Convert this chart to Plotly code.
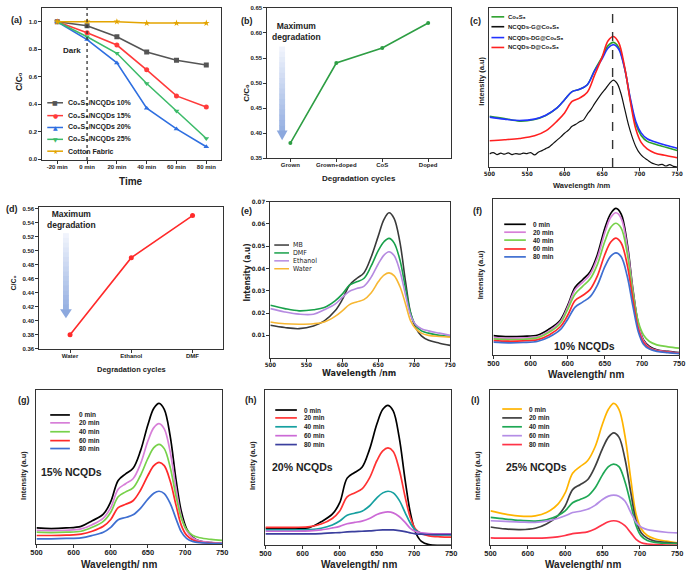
import plotly.graph_objects as go

W, H = 693, 576
FONT = "Arial, Liberation Sans, sans-serif"
NARROW = "Liberation Sans Narrow, DejaVu Sans Condensed, Arial, sans-serif"

# ---------------- data ----------------
# (a) photodegradation vs time
time_labels = ["-20 min", "0 min", "20 min", "40 min", "60 min", "80 min"]
a_names = ["Co\u2089S\u2088/NCQDs 10%", "Co\u2089S\u2088/NCQDs 15%",
           "Co\u2089S\u2088/NCQDs 20%", "Co\u2089S\u2088/NCQDs 25%",
           "Cotton Fabric"]
a_10 = [1.00, 0.97, 0.89, 0.78, 0.72, 0.685]
a_15 = [1.00, 0.92, 0.83, 0.65, 0.46, 0.38]
a_20 = [1.00, 0.87, 0.70, 0.37, 0.22, 0.09]
a_25 = [1.00, 0.89, 0.77, 0.55, 0.35, 0.15]
a_cotton = [1.00, 1.00, 1.00, 0.99, 0.99, 0.99]

# (b)
b_cats = ["Grown", "Grown+doped", "CoS", "Doped"]
b_vals = [0.38, 0.54, 0.57, 0.62]

# (d)
d_cats = ["Water", "Ethanol", "DMF"]
d_vals = [0.38, 0.49, 0.55]

# common wavelength grid (nm)
wl = [500, 520, 540, 560, 575, 590, 600, 610, 620, 630, 640, 650, 658, 665,
      672, 680, 688, 695, 702, 710, 720, 735, 750]

# (c) arbitrary intensity
c_names = ["Co\u2089S\u2088", "NCQDs-G@Co\u2089S\u2088",
           "NCQDs-DG@Co\u2089S\u2088", "NCQDs-D@Co\u2089S\u2088"]
c_co9s8 = [155, 148, 140, 145, 157, 180, 205, 230, 237, 250, 295, 335, 370, 380,
           365, 302, 200, 130, 96, 78, 70, 60, 50]
c_dg = [152, 146, 142, 146, 158, 180, 205, 230, 237, 250, 293, 330, 363, 373,
        360, 300, 205, 138, 104, 86, 77, 66, 57]
c_d = [80, 83, 87, 95, 110, 140, 165, 200, 210, 227, 280, 335, 385, 398,
       380, 305, 195, 115, 75, 55, 43, 35, 28]
wl5 = [500, 505, 510, 515, 520, 525, 530, 535, 540, 545, 550, 555, 560, 565, 570,
       575, 580, 585, 590, 595, 600, 605, 610, 615, 620, 625, 630, 635, 640, 645,
       650, 655, 660, 665, 670, 675, 680, 685, 690, 695, 700, 705, 710, 715, 720,
       725, 730, 735, 740, 745, 750]
c_g = [40, 44, 38, 42, 39, 43, 38, 41, 39, 42, 41, 44, 37, 45, 50,
       56, 62, 72, 82, 92, 103, 112, 124, 130, 138, 143, 160, 175, 193, 210,
       226, 240, 255, 265, 255, 225, 178, 130, 92, 62, 42, 30, 22, 14, 9,
       6, 8, 3, 7, 2, 0]

# (e) absorbance
e_names = ["MB", "DMF", "Ethanol", "Water"]
e_mb = [0.0145, 0.0135, 0.0130, 0.0142, 0.0165, 0.021, 0.026, 0.0325, 0.0355, 0.038,
        0.045, 0.0545, 0.062, 0.065, 0.0625, 0.052, 0.034, 0.020, 0.0135, 0.0098,
        0.0078, 0.0065, 0.0055]
e_dmf = [0.0235, 0.022, 0.021, 0.0215, 0.0225, 0.0255, 0.0285, 0.0325, 0.034, 0.0355,
         0.041, 0.048, 0.052, 0.0535, 0.0515, 0.044, 0.031, 0.020, 0.0145, 0.012,
         0.011, 0.010, 0.0095]
e_eth = [0.022, 0.0205, 0.0195, 0.0195, 0.0215, 0.024, 0.027, 0.0298, 0.031, 0.032,
         0.036, 0.042, 0.046, 0.0475, 0.0458, 0.039, 0.028, 0.019, 0.0148, 0.013,
         0.012, 0.011, 0.010]
e_water = [0.016, 0.0152, 0.015, 0.0152, 0.016, 0.0185, 0.021, 0.0238, 0.025, 0.026,
           0.029, 0.034, 0.037, 0.038, 0.0368, 0.032, 0.024, 0.0165, 0.013, 0.011,
           0.010, 0.0095, 0.0092]

min_labels = ["0 min", "20 min", "40 min", "60 min", "80 min"]
# (f) 10% NCQDs
f_0 = [58, 55, 56, 60, 78, 105, 150, 205, 228, 252, 305, 385, 430, 445, 428, 340, 195, 95, 45, 25, 15, 10, 6]
f_20 = [52, 50, 51, 55, 72, 100, 145, 198, 220, 244, 295, 372, 418, 432, 415, 330, 190, 92, 43, 22, 13, 9, 5]
f_40 = [48, 46, 47, 52, 68, 95, 138, 185, 208, 230, 275, 345, 388, 400, 385, 310, 185, 100, 60, 40, 30, 24, 20]
f_60 = [43, 41, 42, 46, 60, 85, 120, 165, 180, 198, 240, 305, 343, 355, 340, 275, 165, 80, 38, 20, 12, 8, 4]
f_80 = [38, 36, 37, 41, 54, 76, 108, 145, 160, 176, 212, 268, 300, 310, 298, 240, 145, 70, 32, 17, 10, 6, 3]
# (g) 15% NCQDs
g_0 = [50, 48, 50, 55, 72, 92, 130, 195, 215, 232, 285, 365, 415, 430, 412, 330, 195, 100, 48, 22, 10, 5, 2]
g_20 = [43, 42, 43, 47, 60, 80, 112, 168, 185, 200, 245, 315, 356, 368, 352, 282, 168, 85, 42, 20, 10, 6, 3]
g_40 = [37, 36, 37, 40, 52, 70, 98, 145, 160, 172, 210, 262, 295, 305, 292, 235, 145, 80, 45, 28, 20, 15, 12]
g_60 = [27, 27, 28, 31, 40, 55, 76, 112, 122, 133, 165, 210, 240, 250, 240, 193, 118, 58, 28, 14, 7, 4, 2]
g_80 = [17, 17, 18, 20, 27, 37, 52, 75, 82, 90, 110, 138, 156, 162, 155, 125, 77, 38, 18, 9, 5, 3, 2]
# (h) 20% NCQDs
h_0 = [52, 52, 52, 55, 72, 95, 130, 205, 222, 238, 292, 370, 415, 427, 410, 330, 200, 100, 40, 12, 2, 0, 0]
h_20 = [55, 55, 55, 57, 65, 82, 105, 148, 160, 172, 205, 258, 288, 297, 286, 232, 148, 85, 50, 36, 29, 26, 25]
h_40 = [47, 47, 47, 48, 52, 62, 74, 92, 98, 104, 120, 145, 160, 165, 160, 138, 100, 68, 46, 37, 34, 32, 32]
h_60 = [43, 43, 43, 44, 47, 53, 58, 66, 70, 74, 82, 94, 100, 102, 99, 88, 70, 52, 42, 38, 36, 35, 35]
h_80 = [35, 35, 35, 35, 36, 38, 39, 41, 42, 43, 44, 46, 47, 47, 47, 45, 42, 38, 35, 34, 33, 33, 33]
# (i) 25% NCQDs
i_0 = [105, 95, 89, 90, 100, 125, 160, 220, 240, 258, 300, 370, 415, 433, 415, 335, 200, 95, 50, 30, 20, 13, 8]
i_20 = [56, 50, 48, 52, 65, 90, 120, 170, 185, 200, 240, 295, 330, 343, 330, 265, 160, 75, 38, 22, 13, 9, 6]
i_40 = [85, 80, 76, 74, 78, 90, 105, 130, 140, 150, 175, 215, 240, 248, 240, 195, 125, 60, 28, 15, 9, 6, 5]
i_60 = [75, 73, 71, 70, 74, 82, 90, 100, 104, 110, 122, 140, 150, 153, 150, 135, 100, 70, 55, 48, 44, 40, 38]
i_80 = [23, 22, 22, 22, 23, 26, 30, 36, 38, 41, 50, 63, 72, 75, 72, 60, 38, 18, 8, 4, 2, 1, 0]

wl_ticks = [500, 550, 600, 650, 700, 750]
wl_ticktext_fghi = ["500", "600", "600", "650", "700", "750"]

# ---------------- layout helpers ----------------
fig = go.Figure()
layout = dict(width=W, height=H, margin=dict(l=0, r=0, t=0, b=0),
              paper_bgcolor="white", plot_bgcolor="white", showlegend=False)
ann, shapes = [], []
AX = "#333333"

def tf(size, fam=FONT, bold=True):
    return dict(size=size, family=fam, color="#222", weight="bold" if bold else "normal")

def set_axes(n, rect, xr, yr, xkw, ykw):
    x0, x1, t, b = rect
    s = "" if n == 1 else str(n)
    base = dict(showline=True, mirror=True, linecolor=AX, linewidth=1, ticks="outside",
                ticklen=3, tickwidth=1, tickcolor=AX, showgrid=False, zeroline=False)
    layout["xaxis" + s] = {**base, "domain": [x0 / W, x1 / W], "anchor": "y" + s, "range": xr,
                           "ticklabelstandoff": -2, **xkw}
    layout["yaxis" + s] = {**base, "domain": [1 - b / H, 1 - t / H], "anchor": "x" + s, "range": yr, **ykw}
    return ("x" + s, "y" + s)

def txt(s, x, y, size, bold=True, fam=FONT, angle=0, xanchor="center", color="#222"):
    ann.append(dict(text=s, x=x / W, y=1 - y / H, xref="paper", yref="paper", showarrow=False,
                    font=dict(size=size, family=fam, color=color, weight="bold" if bold else "normal"),
                    textangle=angle, xanchor=xanchor, yanchor="middle"))

def pline(x0, y0, x1, y1, color, width):
    shapes.append(dict(type="line", xref="paper", yref="paper", x0=x0 / W, x1=x1 / W,
                       y0=1 - y0 / H, y1=1 - y1 / H, line=dict(color=color, width=width)))

def legend(items, xl0, xl1, xt, ys, size, fam=FONT, bold=True, lw=1.5, msize=6):
    for (label, color, sym), y in zip(items, ys):
        pline(xl0, y, xl1, y, color, lw)
        if sym:
            txt(sym, (xl0 + xl1) / 2, y, msize, bold=False, fam="DejaVu Sans", color=color)
        txt(label, xt, y, size, bold, fam, xanchor="left")

def grad_arrow(cx, top, head_y, tip, sw, hw):
    n = 16
    c0, c1 = (243, 246, 253), (150, 176, 226)
    for k in range(n):
        f = (k + 0.5) / n
        col = "rgb(%d,%d,%d)" % tuple(int(c0[j] + (c1[j] - c0[j]) * f) for j in range(3))
        ya = top + (head_y - top) * k / n
        yb = top + (head_y - top) * (k + 1) / n + 0.6
        shapes.append(dict(type="rect", xref="paper", yref="paper", x0=(cx - sw / 2) / W,
                           x1=(cx + sw / 2) / W, y0=1 - yb / H, y1=1 - ya / H,
                           line=dict(width=0), fillcolor=col))
    p = "M %f %f L %f %f L %f %f Z" % ((cx - hw / 2) / W, 1 - head_y / H, (cx + hw / 2) / W,
                                        1 - head_y / H, cx / W, 1 - tip / H)
    shapes.append(dict(type="path", xref="paper", yref="paper", path=p,
                       fillcolor="rgb(140,168,222)", line=dict(width=0)))

def spec(xa, ya, x, y, color, width=1.6):
    fig.add_trace(go.Scatter(x=x, y=y, mode="lines", line=dict(color=color, width=width, shape="spline"),
                             xaxis=xa, yaxis=ya, showlegend=False, hoverinfo="skip"))

# ---------------- (a) ----------------
xa, ya = set_axes(1, (37, 219, 4, 158), [-0.5, 5.5], [-0.007, 1.1],
                  dict(type="category", tickfont=tf(6)),
                  dict(tick0=0, dtick=0.2, tickformat=".1f", tickfont=tf(6)))
a_series = [a_10, a_15, a_20, a_25, a_cotton]
a_cols = ["#555555", "#ff3b3b", "#2f6fe0", "#3dbb6a", "#e3a400"]
a_syms = ["square", "circle", "triangle-up", "triangle-down", "star"]
a_glyph = ["\u25a0", "\u25cf", "\u25b2", "\u25bc", "\u2605"]
for vals, col, sym in zip(a_series, a_cols, a_syms):
    fig.add_trace(go.Scatter(x=time_labels, y=vals, mode="lines+markers", xaxis=xa, yaxis=ya,
                             hoverinfo="skip",
                             line=dict(color=col, width=1.6), marker=dict(symbol=sym, size=5, color=col)))
shapes.append(dict(type="line", xref=xa, yref="y domain", x0=time_labels.index("0 min"),
                   x1=time_labels.index("0 min"), y0=0, y1=1, line=dict(color="#333", width=1.3, dash="dot")))
txt("Dark", 67, 47, 8)
legend(list(zip(a_names, a_cols, a_glyph)), 42, 58, 61, [100, 113, 125, 137, 149], 7, msize=6)
txt("(a)", 11, 16, 9)
txt("C/C\u2080", 13, 78, 8.5, angle=-90)
txt("Time", 127, 180, 10)

# ---------------- (b) ----------------
xa, ya = set_axes(2, (266, 453, 4, 156), [-0.5, 3.5], [0.35, 0.65],
                  dict(type="category", tickfont=tf(6)),
                  dict(tick0=0.35, dtick=0.05, tickformat=".2f", tickfont=tf(6)))
fig.add_trace(go.Scatter(x=b_cats, y=b_vals, mode="lines+markers", xaxis=xa, yaxis=ya, hoverinfo="skip",
                         line=dict(color="#2e9e44", width=1.6), marker=dict(size=4, color="#2e9e44")))
grad_arrow(281, 43, 128, 138, 6, 11)
txt("Maximum<br>degradation", 296, 28, 8.5)
txt("(b)", 245, 17, 9)
txt("C/C\u2080", 245, 90, 8, angle=-90)
txt("Degradation cycles", 359, 177, 8)

# ---------------- (c) ----------------
xa, ya = set_axes(3, (492, 683, 4, 165), [500, 750], [0, 485],
                  dict(tickvals=wl_ticks, tickfont=tf(6, NARROW)),
                  dict(showticklabels=False, ticks=""))
c_cols = ["#2ca02c", "#111111", "#2233ff", "#ff2020"]
spec(xa, ya, wl, c_co9s8, c_cols[0])
spec(xa, ya, wl5, c_g, c_cols[1], 1.2)
spec(xa, ya, wl, c_dg, c_cols[2])
spec(xa, ya, wl, c_d, c_cols[3])
shapes.append(dict(type="line", xref=xa, yref="y3 domain", x0=664, x1=664, y0=0, y1=1,
                   line=dict(color="#333", width=1.4, dash="dash")))
legend([(n, c, None) for n, c in zip(c_names, c_cols)], 494, 507, 509, [13, 23, 34, 44], 6, lw=1.6)
txt("(c)", 478, 17, 9)
txt("Intensity (a.u)", 483, 78, 7.5, angle=-90)
txt("Wavelength /nm", 586, 184, 7.5)

# ---------------- (d) ----------------
xa, ya = set_axes(4, (34, 221, 205, 349), [-0.5, 2.5], [0.36, 0.563],
                  dict(type="category", tickfont=tf(6)),
                  dict(tick0=0.36, dtick=0.02, tickformat=".2f", tickfont=tf(6)))
fig.add_trace(go.Scatter(x=d_cats, y=d_vals, mode="lines+markers", xaxis=xa, yaxis=ya, hoverinfo="skip",
                         line=dict(color="#ff2a2a", width=1.6), marker=dict(size=5, color="#ff2a2a")))
grad_arrow(61, 232, 309, 318, 6, 12)
txt("Maximum<br>degradation", 67, 218, 8.5)
txt("(d)", 6, 208, 9)
txt("C/C\u2080", 8, 282, 7, angle=-90)
txt("Degradation cycles", 128, 370, 7.5)

# ---------------- (e) ----------------
xa, ya = set_axes(5, (269, 452, 200, 358), [500, 750], [0, 0.07],
                  dict(tickvals=wl_ticks, tickfont=tf(6, NARROW)),
                  dict(tickvals=[0.01, 0.02, 0.03, 0.04, 0.05, 0.06, 0.07], tickformat=".2f",
                       tickfont=tf(6, NARROW)))
e_cols = ["#3a3a3a", "#18a04a", "#b58ae0", "#f7b733"]
for vals, col in zip([e_mb, e_dmf, e_eth, e_water], e_cols):
    spec(xa, ya, wl, vals, col)
legend([(n, c, None) for n, c in zip(e_names, e_cols)], 273, 288, 290, [244, 252, 260, 268], 7,
       fam=NARROW, bold=False)
txt("(e)", 245, 210, 9)
txt("Intensity (a.u)", 246, 272, 8, fam=NARROW, angle=-90)
txt("Wavelength /nm", 359, 374, 9, fam=NARROW)

# ---------------- (f)-(i) ----------------
panels = [
    (6, (496, 685, 197, 355), [0, 475], [f_0, f_20, f_40, f_60, f_80],
     ["#000000", "#d77fd8", "#77d14a", "#ff2a2a", "#3f6fd1"],
     (507, 529, 534, [223, 231, 239, 248, 256]), "(f)", (480, 210), (483, 274), 590, 375,
     "10% NCQDs", (589, 346)),
    (7, (31, 220, 391, 547), [0, 470], [g_0, g_20, g_40, g_60, g_80],
     ["#000000", "#d77fd8", "#77d14a", "#ff2a2a", "#3f6fd1"],
     (45, 65, 72, [416, 424, 433, 442, 450]), "(g)", (18, 401), (18, 477), 115, 567,
     "15% NCQDs", (67, 474)),
    (8, (264, 453, 391, 548), [0, 473], [h_0, h_20, h_40, h_60, h_80],
     ["#000000", "#ff3333", "#16a0a0", "#cc6ad6", "#3b3f9e"],
     (274, 296, 301, [411, 419, 428, 437, 446]), "(h)", (249, 401), (251, 467), 359, 567,
     "20% NCQDs", (302, 469)),
    (9, (493, 683, 391, 548), [0, 473], [i_0, i_20, i_40, i_60, i_80],
     ["#ffb400", "#404040", "#1fa855", "#b48de6", "#ff3347"],
     (505, 525, 530, [410, 419, 428, 437, 446]), "(I)", (478, 401), (480, 477), 587, 567,
     "25% NCQDs", (540, 469)),
]
for n, rect, yr, series, cols, leg, lab, labpos, ytpos, xtx, xty, note, notepos in panels:
    xa, ya = set_axes(n, rect, [500, 750], yr,
                      dict(tickvals=wl_ticks, ticktext=wl_ticktext_fghi, tickfont=tf(7.5)),
                      dict(showticklabels=False, ticks=""))
    for vals, col in zip(series, cols):
        spec(xa, ya, wl, vals, col, 1.7)
    legend([(m, c, None) for m, c in zip(min_labels, cols)], leg[0], leg[1], leg[2], leg[3], 6.5, lw=1.7)
    txt(lab, labpos[0], labpos[1], 9)
    txt("Intensity (a.u)", ytpos[0], ytpos[1], 7.5, angle=-90)
    txt("Wavelength/ nm", xtx, xty, 10)
    txt(note, notepos[0], notepos[1], 10.5)

layout["annotations"] = ann
layout["shapes"] = shapes
fig.update_layout(**layout)
fig.write_html("out.html", config={"displayModeBar": False},
               post_script="document.body.style.margin='0px';")
